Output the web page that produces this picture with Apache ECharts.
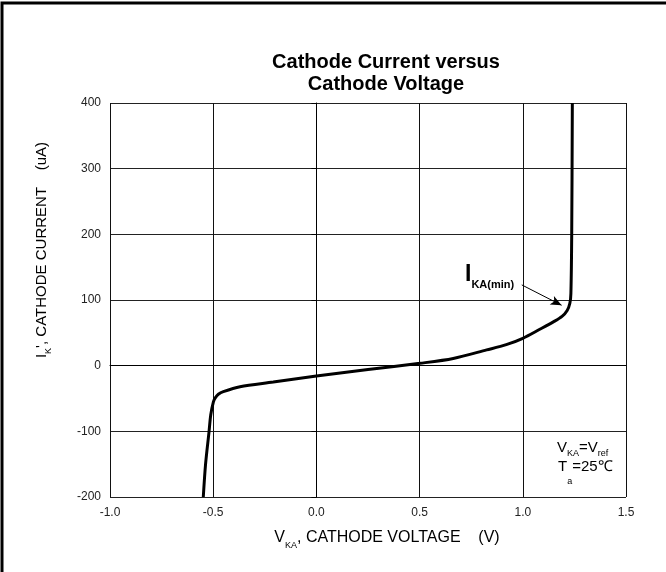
<!DOCTYPE html>
<html>
<head>
<meta charset="utf-8">
<script src="https://cdn.jsdelivr.net/npm/echarts@6/dist/echarts.min.js"></script>
<style>html,body{margin:0;padding:0;background:#fff}#c{width:666px;height:572px}</style>
</head>
<body>
<div id="c"></div>
<script>
// Data
var voltage = [-0.548, -0.537, -0.520, -0.512, -0.499, -0.490, -0.475, -0.451, -0.370, -0.209, 0.0, 0.25, 0.502, 0.663, 0.825, 0.92, 1.0, 1.08, 1.15, 1.19, 1.215, 1.228, 1.233, 1.237, 1.240];
var current = [-200, -150, -100, -75, -55, -49, -43.5, -39.5, -32, -25, -15.7, -6, 3.6, 11, 24, 32, 41.7, 55, 67, 75, 84, 95, 110, 200, 400];
var xTicks = {min: -1.0, max: 1.5, step: 0.5};
var yTicks = {min: -200, max: 400, step: 100};
var arrowFrom = [0.995, 123];
var arrowTo = [1.188, 92];

var F = 'Arial, "Liberation Sans", Helvetica, sans-serif';
var chart = echarts.init(document.getElementById('c'));
var pts = voltage.map(function (v, i) { return [v, current[i]]; });

chart.setOption({
  animation: false,
  title: {
    text: 'Cathode Current versus\nCathode Voltage',
    left: 381, top: 46, textAlign: 'center',
    textStyle: {fontFamily: F, fontWeight: 'bold', fontSize: 20, lineHeight: 22, color: '#000'}
  },
  grid: {left: 110, right: 40, top: 103, bottom: 75},
  xAxis: {
    type: 'value', min: xTicks.min, max: xTicks.max, interval: xTicks.step,
    axisLine: {show: true, lineStyle: {color: '#000', width: 1}},
    axisTick: {show: false},
    axisLabel: {fontFamily: F, fontSize: 12, color: '#222', margin: 10,
      formatter: function (v) { return v.toFixed(1); }},
    splitLine: {show: true, lineStyle: {color: '#111', width: 1}}
  },
  yAxis: {
    type: 'value', min: yTicks.min, max: yTicks.max, interval: yTicks.step,
    axisLine: {show: true, lineStyle: {color: '#000', width: 1}},
    axisTick: {show: true, length: 5, lineStyle: {color: '#000'}},
    axisLabel: {fontFamily: F, fontSize: 12, color: '#222', margin: 9},
    splitLine: {show: true, lineStyle: {color: '#222', width: 1}}
  },
  series: [{
    type: 'line', data: pts, showSymbol: false, smooth: 0.3,
    lineStyle: {color: '#000', width: 3},
    markLine: {
      silent: true, symbol: ['none', 'arrow'], symbolSize: [7, 11],
      label: {show: false},
      lineStyle: {color: '#000', width: 1, type: 'solid'},
      data: [[{coord: arrowFrom}, {coord: arrowTo}]]
    }
  }],
  graphic: [
    {type: 'rect', shape: {x: 2, y: 3, width: 720, height: 640},
      style: {fill: 'none', stroke: '#000', lineWidth: 3}, silent: true},
    {type: 'text', x: 42, y: 250, rotation: Math.PI / 2,
      style: {
        text: '{m|I}{s|K}{m|\', CATHODE CURRENT    (uA)}',
        textAlign: 'center', textVerticalAlign: 'middle',
        rich: {
          m: {fontFamily: F, fontSize: 15, color: '#000', lineHeight: 22, verticalAlign: 'middle'},
          s: {fontFamily: F, fontSize: 9, color: '#000', lineHeight: 10, verticalAlign: 'bottom'}
        }
      }},
    {type: 'text', x: 387, y: 538,
      style: {
        text: '{m|V}{s|KA}{m|, CATHODE VOLTAGE    (V)}',
        textAlign: 'center', textVerticalAlign: 'middle',
        rich: {
          m: {fontFamily: F, fontSize: 16, color: '#000', lineHeight: 24, verticalAlign: 'middle'},
          s: {fontFamily: F, fontSize: 9, color: '#000', lineHeight: 6, verticalAlign: 'bottom'}
        }
      }},
    {type: 'text', x: 465, y: 275,
      style: {
        text: '{b|I}{s|KA(min)}', textVerticalAlign: 'middle',
        rich: {
          b: {fontFamily: F, fontSize: 23, fontWeight: 'bold', color: '#000', lineHeight: 30, verticalAlign: 'middle'},
          s: {fontFamily: F, fontSize: 11, fontWeight: 'bold', color: '#000', lineHeight: 6, verticalAlign: 'bottom'}
        }
      }},
    {type: 'text', x: 557, y: 448,
      style: {
        text: '{m|V}{s|KA}{m|=V}{s|ref}', textVerticalAlign: 'middle',
        rich: {
          m: {fontFamily: F, fontSize: 15, color: '#000', lineHeight: 20, verticalAlign: 'middle'},
          s: {fontFamily: F, fontSize: 9, color: '#000', lineHeight: 10, verticalAlign: 'bottom'}
        }
      }},
    {type: 'text', x: 558, y: 459,
      style: {
        text: '{m|T}{s|a}{m|=25℃}', textVerticalAlign: 'top',
        rich: {
          m: {fontFamily: F, fontSize: 15, color: '#000', lineHeight: 20, verticalAlign: 'top'},
          s: {fontFamily: F, fontSize: 9, color: '#000', lineHeight: 27, verticalAlign: 'bottom'}
        }
      }}
  ]
});
</script>
</body>
</html>
